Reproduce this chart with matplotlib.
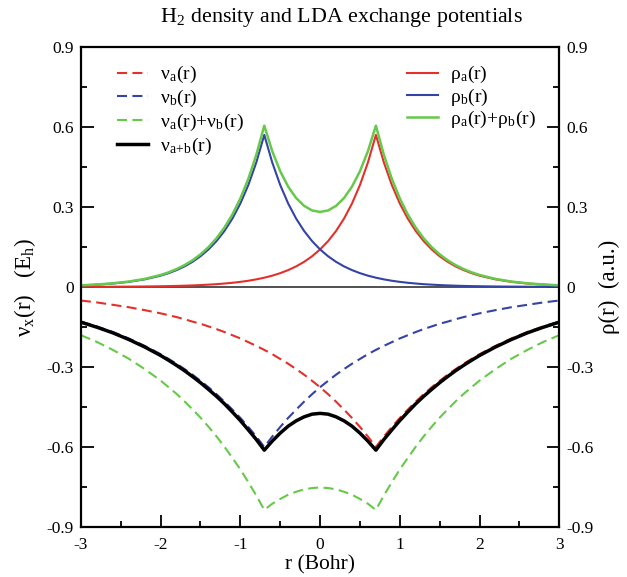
import matplotlib
matplotlib.use("Agg")
import matplotlib.pyplot as plt
from matplotlib.ticker import MultipleLocator
import numpy as np

plt.rcParams['font.family'] = ['Liberation Serif', 'DejaVu Serif']
plt.rcParams['mathtext.fontset'] = 'stix'

# r grid (Bohr), symmetric about 0
r = [-3.0, -2.8, -2.6, -2.4, -2.2,
     -2.0, -1.9, -1.8, -1.7, -1.6, -1.5, -1.4, -1.3, -1.2, -1.1,
     -1.0, -0.9, -0.8, -0.7, -0.6, -0.5, -0.4, -0.3, -0.2, -0.1,
     0.0, 0.1, 0.2, 0.3, 0.4, 0.5, 0.6, 0.7, 0.8, 0.9, 1.0,
     1.1, 1.2, 1.3, 1.4, 1.5, 1.6, 1.7, 1.8, 1.9, 2.0,
     2.2, 2.4, 2.6, 2.8, 3.0]

# density of atom a (nucleus at r=+0.7)
rho_a = [0.0003, 0.0005, 0.0008, 0.0012, 0.0017,
         0.0026, 0.0031, 0.0038, 0.0047, 0.0057, 0.0070, 0.0086, 0.0104, 0.0128, 0.0156,
         0.0190, 0.0232, 0.0284, 0.0347, 0.0423, 0.0517, 0.0632, 0.0771, 0.0942, 0.1151,
         0.1406, 0.1717, 0.2097, 0.2561, 0.3128, 0.3821, 0.4667, 0.570, 0.4667, 0.3821, 0.3128,
         0.2561, 0.2097, 0.1717, 0.1406, 0.1151, 0.0942, 0.0771, 0.0632, 0.0517, 0.0423,
         0.0284, 0.0190, 0.0128, 0.0086, 0.0057]

# exchange potential of atom a
v_a = [-0.051, -0.058, -0.067, -0.076, -0.087,
       -0.099, -0.106, -0.113, -0.121, -0.130, -0.138, -0.148, -0.158, -0.169, -0.181,
       -0.193, -0.207, -0.221, -0.236, -0.252, -0.270, -0.288, -0.308, -0.329, -0.352,
       -0.376, -0.402, -0.430, -0.460, -0.491, -0.525, -0.561, -0.600, -0.561, -0.525, -0.491,
       -0.460, -0.430, -0.402, -0.376, -0.352, -0.329, -0.308, -0.288, -0.270, -0.252,
       -0.221, -0.193, -0.169, -0.148, -0.130]

# exchange potential of the molecule
v_ab = [-0.132, -0.151, -0.172, -0.197, -0.225,
        -0.257, -0.275, -0.294, -0.314, -0.336, -0.359, -0.384, -0.410, -0.438, -0.469,
        -0.501, -0.536, -0.572, -0.612, -0.578, -0.548, -0.522, -0.502, -0.487, -0.477,
        -0.474, -0.477, -0.487, -0.502, -0.522, -0.548, -0.578, -0.612, -0.572, -0.536, -0.501,
        -0.469, -0.438, -0.410, -0.384, -0.359, -0.336, -0.314, -0.294, -0.275, -0.257,
        -0.225, -0.197, -0.172, -0.151, -0.132]

# atom b sits at r=-0.7: mirror image of atom a
rho_b = rho_a[::-1]
v_b = v_a[::-1]
rho_sum = np.array(rho_a) + np.array(rho_b)
v_sum = np.array(v_a) + np.array(v_b)

red = '#e3302a'
blue = '#3343a6'
green = '#66c94a'

fig = plt.figure(figsize=(6.27, 5.77), dpi=100)
ax = fig.add_axes([0.129, 0.0867, 0.763, 0.832])

ax.axhline(0, color='#333333', lw=1.2, zorder=1)

dash = (4.8, 2.6)
l1, = ax.plot(r, v_a, color=red, lw=1.5, dashes=dash, label=r'ν$_\mathregular{a}$(r)')
l2, = ax.plot(r, v_b, color=blue, lw=1.5, dashes=dash, label=r'ν$_\mathregular{b}$(r)')
l3, = ax.plot(r, v_sum, color=green, lw=1.5, dashes=dash,
              label=r'ν$_\mathregular{a}$(r)+ν$_\mathregular{b}$(r)')
l4, = ax.plot(r, v_ab, color='black', lw=2.5, label=r'ν$_\mathregular{a\!+\!b}$(r)')

l5, = ax.plot(r, rho_a, color=red, lw=1.5, label=r'ρ$_\mathregular{a}$(r)')
l6, = ax.plot(r, rho_b, color=blue, lw=1.5, label=r'ρ$_\mathregular{b}$(r)')
l7, = ax.plot(r, rho_sum, color=green, lw=1.8,
              label=r'ρ$_\mathregular{a}$(r)+ρ$_\mathregular{b}$(r)')

ax.set_xlim(-3, 3)
ax.set_ylim(-0.9, 0.9)
ax.xaxis.set_minor_locator(MultipleLocator(0.5))
ax.yaxis.set_minor_locator(MultipleLocator(0.15))
ax.set_yticks([-0.9, -0.6, -0.3, 0, 0.3, 0.6, 0.9])
ax.set_yticklabels(['-0.9', '-0.6', '-0.3', '0', '0.3', '0.6', '0.9'])
ax.set_xticks([-3, -2, -1, 0, 1, 2, 3])
ax.set_xticklabels(['-3', '-2', '-1', '0', '1', '2', '3'])
ax.tick_params(which='both', direction='in', labelsize=12.5, width=1.3, top=False, right=True)
ax.tick_params(which='major', length=9)
ax.tick_params(which='minor', length=4.5)
ax.tick_params(axis='y', labelright=True, pad=5)
ax.tick_params(axis='x', pad=7)
for s in ax.spines.values():
    s.set_linewidth(1.6)

ax.set_xlabel('r (Bohr)', fontsize=15.5, labelpad=2)
ax.set_ylabel(r'ν$_\mathregular{x}$(r)   (E$_\mathregular{h}$)', fontsize=16.5, labelpad=6)
ax.text(1.105, 0.5, 'ρ(r)  (a.u.)', transform=ax.transAxes, rotation=90,
        fontsize=16.5, va='center', ha='center')
ax.set_title(r'H$_\mathregular{2}$ density and LDA exchange potentials', fontsize=15.8,
             x=0.544, pad=18)

leg1 = ax.legend(handles=[l1, l2, l3, l4], loc='upper left', bbox_to_anchor=(0.06, 0.98),
                 frameon=False, fontsize=14, handlelength=1.6, labelspacing=0.14,
                 handletextpad=0.6, borderaxespad=0)
ax.add_artist(leg1)
ax.legend(handles=[l5, l6, l7], loc='upper left', bbox_to_anchor=(0.665, 0.98),
          frameon=False, fontsize=14, handlelength=1.6, labelspacing=0.05,
          handletextpad=0.6, borderaxespad=0)

fig.savefig('out.png', dpi=100)
